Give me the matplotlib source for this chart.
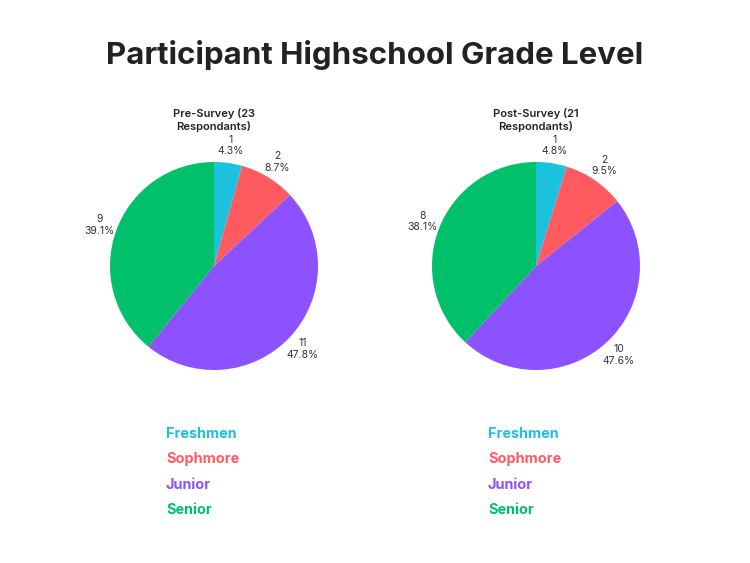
import matplotlib
matplotlib.use("Agg")
from matplotlib import pyplot as plt

# data
grades = ["Freshmen", "Sophmore", "Junior", "Senior"]
pre_counts = [1, 2, 11, 9]
post_counts = [1, 2, 10, 8]
colors = ["#1BC1DD", "#FF5A5F", "#8C52FF", "#00C16A"]
pre_title = "Pre-Survey (23\nRespondants)"
post_title = "Post-Survey (21\nRespondants)"

plt.rcParams['font.family'] = ['Inter', 'DejaVu Sans']

fig = plt.figure(figsize=(7.5, 5.63), dpi=100)
fig.patch.set_facecolor("white")

fig.text(0.5, 1 - 55 / 563, "Participant Highschool Grade Level",
         ha="center", va="center", fontsize=22.5, fontweight="bold", color="#222222")


def draw_pie(cx, counts, title):
    # cx = pie centre in pixels
    w, h = 312 / 750, 312 / 563
    ax = fig.add_axes([(cx - 156) / 750, (563 - 266 - 156) / 563, w, h])
    total = sum(counts)
    labels = ["%d\n%.1f%%" % (c, 100 * c / total) for c in counts]
    wedges, texts = ax.pie(counts, colors=colors, startangle=90, counterclock=False,
                           labels=labels, labeldistance=1.17,
                           textprops=dict(fontsize=7.5, color="#333333", linespacing=1.2))
    for t in texts:
        t.set_ha("center")
        t.set_multialignment("center")
    ax.set_xlim(-1.5, 1.5)
    ax.set_ylim(-1.5, 1.5)
    ax.set_aspect("equal")
    ax.axis("off")
    fig.text(cx / 750, 1 - 120 / 563, title, ha="center", va="center",
             fontsize=8, fontweight="semibold", color="#222222", linespacing=1.25)
    # colour legend
    for i, g in enumerate(grades):
        fig.text((cx - 48) / 750, 1 - (434 + 25.5 * i) / 563, g, ha="left", va="center",
                 fontsize=10.4, fontweight="bold", color=colors[i])


draw_pie(214, pre_counts, pre_title)
draw_pie(536, post_counts, post_title)

plt.savefig("out.png", dpi=100)
